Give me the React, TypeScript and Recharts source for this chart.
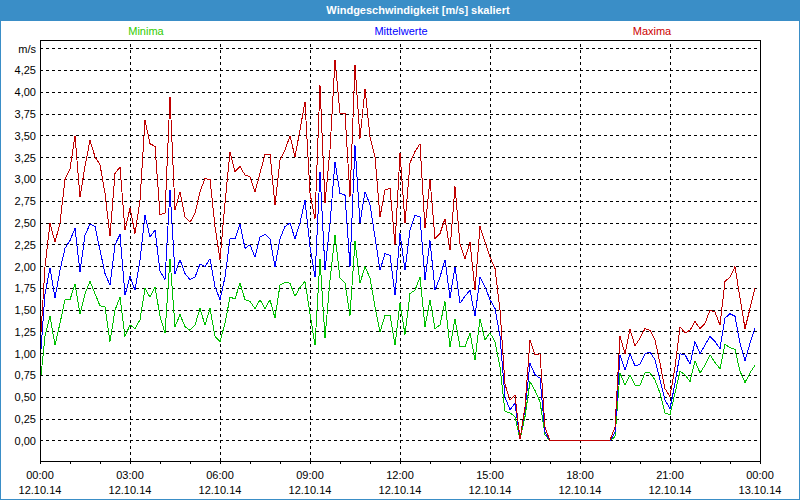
import { LineChart, Line, XAxis, YAxis, CartesianGrid, ReferenceLine, ReferenceArea } from "recharts"

// 10-minute values, 12.10.14 00:00 .. 23:50
const minima = [
  0.64, 1.2, 1.43, 1.1, 1.35, 1.62, 1.62, 1.8, 1.46, 1.69, 1.83, 1.69,
  1.55, 1.54, 1.14, 1.5, 1.65, 1.2, 1.33, 1.29, 1.39, 1.75, 1.65, 1.77,
  1.43, 1.24, 2.09, 1.31, 1.45, 1.31, 1.27, 1.33, 1.52, 1.33, 1.52, 1.2,
  1.14, 1.35, 1.65, 1.63, 1.81, 1.62, 1.6, 1.52, 1.62, 1.52, 1.62, 1.41,
  1.79, 1.82, 1.81, 1.66, 1.76, 1.83, 1.46, 1.1, 2.09, 1.18, 1.85, 2.36,
  1.87, 1.81, 1.44, 2.29, 1.81, 2.0, 1.87, 1.54, 1.25, 1.44, 1.44, 1.1,
  1.58, 1.22, 1.69, 1.73, 1.88, 1.31, 1.62, 1.29, 1.33, 1.6, 1.08, 1.4,
  1.08, 1.08, 1.24, 0.93, 1.4, 1.16, 1.24, 1.14, 0.85, 0.34, 0.32, 0.28,
  0.02, 0.28, 0.68, 0.58, 0.45, 0.07, 0, 0, 0, 0, 0, 0,
  0, 0, 0, 0, 0, 0, 0, 0.05, 0.78, 0.64, 0.76, 0.64,
  0.64, 0.78, 0.78, 0.7, 0.55, 0.32, 0.3, 0.55, 0.8, 0.76, 0.68, 0.92,
  0.78, 0.87, 0.99, 0.9, 0.83, 1.11, 1.07, 1.05, 0.8, 0.67, 0.78, 0.87,
]

const mittelwerte = [
  0.9, 1.69, 1.98, 1.64, 1.96, 2.21, 2.3, 2.44, 1.94, 2.36, 2.49, 2.46,
  2.19, 1.92, 1.79, 2.25, 2.37, 1.67, 1.89, 1.73, 2.08, 2.59, 2.34, 2.42,
  1.95, 1.85, 2.88, 1.92, 2.08, 1.92, 1.85, 1.88, 2.03, 2.0, 2.09, 1.77,
  1.62, 1.88, 2.32, 2.32, 2.49, 2.21, 2.25, 2.11, 2.34, 2.37, 2.32, 2.0,
  2.32, 2.46, 2.5, 2.32, 2.5, 2.76, 2.23, 1.88, 3.09, 1.96, 2.5, 3.2,
  2.84, 2.82, 2.0, 3.39, 2.5, 2.86, 2.71, 2.34, 1.96, 2.15, 2.13, 1.67,
  2.38, 1.96, 2.42, 2.59, 2.57, 1.85, 2.3, 1.73, 1.88, 2.08, 1.64, 2.0,
  1.58, 1.66, 1.73, 1.43, 1.88, 1.77, 1.62, 1.52, 1.2, 0.5, 0.36, 0.43,
  0.02, 0.36, 0.89, 0.76, 0.72, 0.1, 0, 0, 0, 0, 0, 0,
  0, 0, 0, 0, 0, 0, 0, 0.1, 0.99, 0.81, 1.0, 0.86,
  0.88, 1.0, 1.02, 0.93, 0.7, 0.47, 0.37, 0.66, 1.0, 0.99, 0.88, 1.14,
  1.0, 1.1, 1.2, 1.14, 1.06, 1.41, 1.46, 1.43, 1.12, 0.92, 1.12, 1.29,
]

const maxima = [
  1.05, 2.0, 2.5, 2.28, 2.5, 3.0, 3.12, 3.5, 2.8, 3.15, 3.45, 3.26,
  3.17, 2.84, 2.35, 3.07, 3.14, 2.42, 2.67, 2.38, 2.76, 3.68, 3.41, 3.38,
  2.6, 2.61, 3.95, 2.65, 2.86, 2.57, 2.51, 2.61, 2.86, 3.01, 3.0, 2.46,
  2.08, 2.73, 3.32, 3.09, 3.15, 3.05, 3.03, 2.86, 3.07, 3.29, 3.29, 2.71,
  3.22, 3.34, 3.5, 3.26, 3.57, 3.89, 2.84, 2.55, 4.08, 2.73, 3.34, 4.37,
  3.76, 3.76, 2.8, 4.31, 3.47, 4.04, 3.49, 3.26, 2.57, 2.88, 2.9, 2.25,
  3.3, 2.5, 3.19, 3.32, 3.41, 2.44, 3.0, 2.32, 2.38, 2.55, 2.19, 2.92,
  2.26, 2.09, 2.28, 1.73, 2.46, 2.28, 2.11, 1.98, 1.5, 0.65, 0.47, 0.53,
  0.02, 0.39, 1.16, 0.99, 1.0, 0.16, 0, 0, 0, 0, 0, 0,
  0, 0, 0, 0, 0, 0, 0.01, 0.16, 1.2, 1.0, 1.28, 1.09,
  1.18, 1.29, 1.27, 1.16, 0.89, 0.6, 0.51, 0.85, 1.31, 1.24, 1.27, 1.37,
  1.29, 1.35, 1.5, 1.48, 1.33, 1.83, 1.88, 2.0, 1.64, 1.29, 1.52, 1.75,
]

// x axis in 10-minute steps, ticks every hour, labels every 3 hours
const xTicks = [0, 6, 12, 18, 24, 30, 36, 42, 48, 54, 60, 66, 72, 78, 84, 90, 96, 102, 108, 114, 120, 126, 132, 138, 144]
const gridSteps = [18, 36, 54, 72, 90, 108, 126]
const timeLabels = ["00:00", "03:00", "06:00", "09:00", "12:00", "15:00", "18:00", "21:00", "00:00"]
const dateLabels = ["12.10.14", "12.10.14", "12.10.14", "12.10.14", "12.10.14", "12.10.14", "12.10.14", "12.10.14", "13.10.14"]
const yTicks = [0, 0.25, 0.5, 0.75, 1, 1.25, 1.5, 1.75, 2, 2.25, 2.5, 2.75, 3, 3.25, 3.5, 3.75, 4, 4.25, 4.5]

const data = minima.map((v, i) => ({ k: i, min: v, avg: mittelwerte[i], max: maxima[i] }))

const font = "'Liberation Sans', Arial, sans-serif"

function TimeTick({ x, y, payload }: any) {
  const v = payload.value
  if (v % 18 !== 0) return null
  const i = v / 18
  return (
    <g>
      <text x={x} y={y + 15} textAnchor="middle" fontSize={11} fontFamily={font} fill="#000">
        {timeLabels[i]}
      </text>
      <text x={x} y={y + 30} textAnchor="middle" fontSize={11} fontFamily={font} fill="#000">
        {dateLabels[i]}
      </text>
    </g>
  )
}

export default function App() {
  return (
    <div
      style={{
        position: "absolute",
        left: 0,
        top: 0,
        width: 800,
        height: 500,
        boxSizing: "border-box",
        border: "1px solid #3a8ec7",
        background: "#fff",
        fontFamily: font,
      }}
    >
      <div style={{ position: "absolute", left: -1, top: -1 }}>
        <LineChart width={800} height={500} data={data} margin={{ top: 40, right: 40, bottom: 0, left: 0 }}>
          <CartesianGrid vertical={false} stroke="#000" strokeDasharray="3 3" shapeRendering="crispEdges" />
          {gridSteps.map((g) => (
            <ReferenceLine key={g} x={g} stroke="#000" strokeDasharray="3 3" shapeRendering="crispEdges" />
          ))}
          <ReferenceArea
            x1={0}
            x2={144}
            y1={-0.23}
            y2={4.6}
            fill="none"
            stroke="#000"
            strokeWidth={1}
            shapeRendering="crispEdges"
          />
          <XAxis
            dataKey="k"
            type="number"
            domain={[0, 144]}
            ticks={xTicks}
            interval={0}
            height={39}
            tickSize={3}
            tickMargin={0}
            axisLine={{ stroke: "#000", shapeRendering: "crispEdges" }}
            tickLine={{ stroke: "#000", shapeRendering: "crispEdges" }}
            tick={<TimeTick />}
          />
          <YAxis
            type="number"
            domain={[-0.23, 4.6]}
            ticks={yTicks}
            interval={0}
            width={40}
            tickSize={0}
            tickMargin={4}
            axisLine={{ stroke: "#000", shapeRendering: "crispEdges" }}
            tickLine={false}
            tick={{ fontSize: 11, fontFamily: font, fill: "#000" }}
            tickFormatter={(v: number) => (v === 4.5 ? "m/s" : v.toFixed(2).replace(".", ","))}
          />
          <Line type="linear" dataKey="min" stroke="#00c000" strokeWidth={1} dot={false} isAnimationActive={false} shapeRendering="crispEdges" />
          <Line type="linear" dataKey="avg" stroke="#0000ff" strokeWidth={1} dot={false} isAnimationActive={false} shapeRendering="crispEdges" />
          <Line type="linear" dataKey="max" stroke="#c00000" strokeWidth={1} dot={false} isAnimationActive={false} shapeRendering="crispEdges" />
        </LineChart>
      </div>
      <div
        style={{
          position: "absolute",
          left: -1,
          top: -1,
          width: 800,
          height: 21,
          background: "#3a8ec7",
          color: "#fff",
          fontWeight: "bold",
          fontSize: 11,
          lineHeight: "21px",
        }}
      >
        <div style={{ position: "absolute", left: 218, width: 400, textAlign: "center" }}>
          Windgeschwindigkeit [m/s] skaliert
        </div>
      </div>
      <div style={{ position: "absolute", left: 85, top: 24, width: 120, textAlign: "center", fontSize: 11, color: "#33cc00" }}>
        Minima
      </div>
      <div style={{ position: "absolute", left: 340, top: 24, width: 120, textAlign: "center", fontSize: 11, color: "#0000ff" }}>
        Mittelwerte
      </div>
      <div style={{ position: "absolute", left: 591, top: 24, width: 120, textAlign: "center", fontSize: 11, color: "#cc0000" }}>
        Maxima
      </div>
    </div>
  )
}
